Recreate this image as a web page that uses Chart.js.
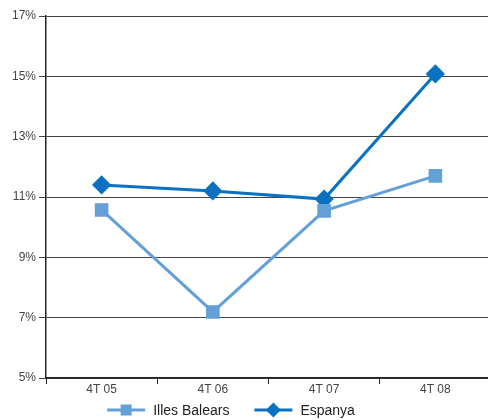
<!DOCTYPE html>
<html><head><meta charset="utf-8">
<script src="https://cdn.jsdelivr.net/npm/chart.js@4/dist/chart.umd.min.js"></script>
<style>html,body{margin:0;padding:0;background:#fff;overflow:hidden}#wrap{width:491px;height:420px}</style>
</head><body><div id="wrap"><canvas id="c" width="491" height="420"></canvas></div>
<script>
const categories = ['4T 05','4T 06','4T 07','4T 08'];
const illesBalears = [10.57, 7.19, 10.54, 11.70];
const espanya = [11.40, 11.20, 10.93, 15.08];
const yTicks = [5,7,9,11,13,15,17];

const FONT = '"Liberation Sans Narrow", "Liberation Sans", Arial, sans-serif';
const C1 = '#64a0d8', C2 = '#0a72c0';

const customLegend = {
  id: 'customLegend',
  afterDraw(chart){
    const ctx = chart.ctx;
    const ds = chart.data.datasets;
    ctx.save();
    ctx.font = '14px ' + FONT;
    const iconW = 38, gap = 8, itemGap = 25;
    const widths = ds.map(d => iconW + gap + ctx.measureText(d.label).width);
    const total = widths.reduce((a,b)=>a+b,0) + itemGap*(ds.length-1);
    let x = 231 - total/2;
    const y = 410;
    ds.forEach((d,i) => {
      ctx.strokeStyle = d.borderColor; ctx.lineWidth = 3;
      ctx.beginPath(); ctx.moveTo(x, y); ctx.lineTo(x+iconW, y); ctx.stroke();
      ctx.fillStyle = d.borderColor;
      const cx = x + iconW/2;
      if (d.pointStyle === 'rect') { ctx.fillRect(cx-5.5, y-5.5, 11, 11); }
      else { ctx.beginPath(); ctx.moveTo(cx, y-7.5); ctx.lineTo(cx+7.5, y); ctx.lineTo(cx, y+7.5); ctx.lineTo(cx-7.5, y); ctx.closePath(); ctx.fill(); }
      ctx.fillStyle = '#222'; ctx.textBaseline = 'middle'; ctx.textAlign = 'left';
      ctx.fillText(d.label, x + iconW + gap, y + 1);
      x += widths[i] + itemGap;
    });
    ctx.restore();
  }
};

new Chart(document.getElementById('c'), {
  type: 'line',
  data: { labels: categories, datasets: [
    { label: 'Illes Balears', data: illesBalears, borderColor: C1, backgroundColor: C1, borderWidth: 3,
      pointStyle: 'rect', pointRadius: 7.5, pointHoverRadius: 7.5, tension: 0 },
    { label: 'Espanya', data: espanya, borderColor: C2, backgroundColor: C2, borderWidth: 3,
      pointStyle: 'rectRot', pointRadius: 7.5, pointHoverRadius: 7.5, tension: 0 }
  ]},
  options: {
    responsive: false, animation: false, devicePixelRatio: 1,
    layout: { autoPadding: false, padding: { top: 16, right: 0, left: 0, bottom: 20 } },
    plugins: { tooltip: { enabled: false }, legend: { display: false } },
    scales: {
      x: { offset: true,
        grid: { offset: true, drawOnChartArea: false, drawTicks: true, tickLength: 6, color: '#222', lineWidth: 1 },
        border: { color: '#222', width: 1.5 },
        ticks: { font: { family: FONT, size: 12 }, color: '#444', padding: -2 },
        afterFit: (s) => { s.height = 22; s.paddingLeft = 0; s.paddingRight = 0; } },
      y: { min: 5, max: 17,
        afterBuildTicks: (s) => { s.ticks = yTicks.map(v => ({ value: v })); },
        grid: { color: '#444', lineWidth: 1, drawTicks: true, tickLength: 7 },
        border: { color: '#222', width: 1.5 },
        ticks: { font: { family: FONT, size: 12 }, color: '#444', padding: 3, callback: (v) => v + '%' },
        afterFit: (s) => { s.width = 46; } }
    }
  },
  plugins: [customLegend]
});
</script></body></html>
